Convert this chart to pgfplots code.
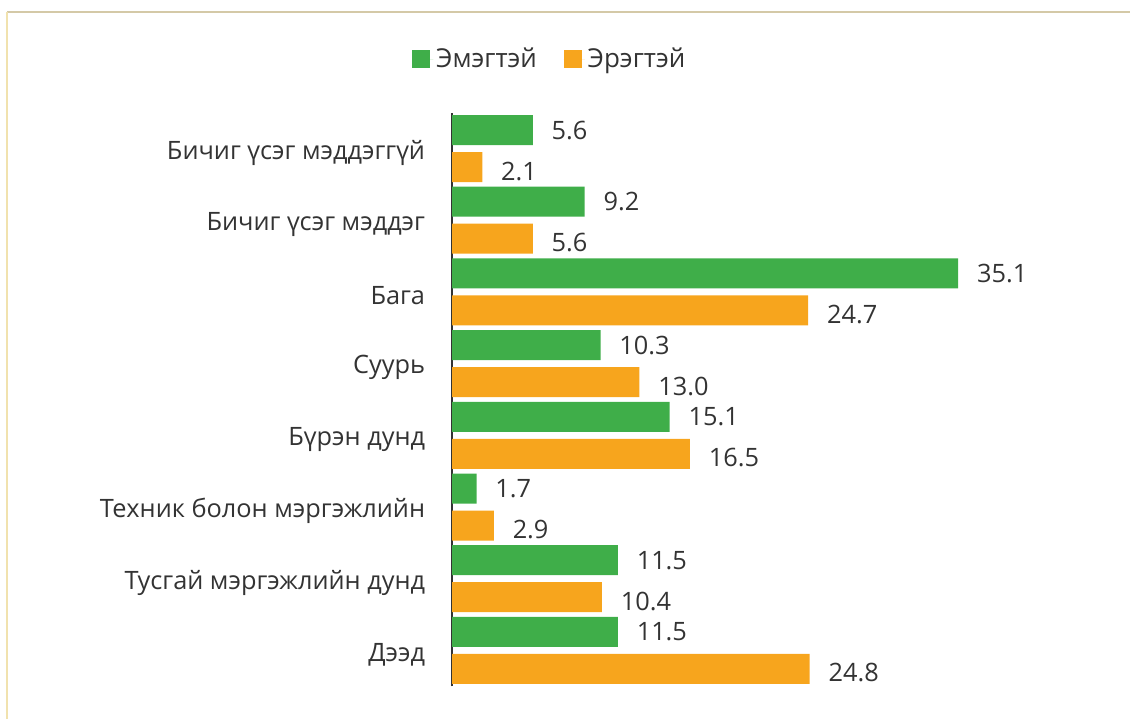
\documentclass[border=0pt]{standalone}
\usepackage{pgfplots}
\pgfplotsset{compat=1.18}
\usepackage{fontspec}
\setmainfont{Open Sans}
\definecolor{fem}{HTML}{3FAE49}
\definecolor{mal}{HTML}{F7A51D}
\definecolor{txt}{HTML}{333333}
\definecolor{frame}{HTML}{C9BC91}

\begin{document}
\begin{tikzpicture}
\useasboundingbox (0,0) rectangle (847.5pt,539.25pt);
% frame lines
\draw[frame!80, line width=1.5pt] (5.25pt,530.25pt) -- (847.5pt,530.25pt);
\draw[frame!120!black, line width=1.1pt] (5.25pt,530.25pt) -- (5.25pt,0pt);
\begin{axis}[
  at={(339pt,24.56pt)}, anchor=south west,
  scale only axis, width=432.6pt, height=430.2pt,
  xbar, bar width=22.5pt,
  xmin=0, xmax=40, ymin=-0.5, ymax=7.5,
  axis x line=none, axis y line*=left,
  axis line style={txt, line width=1.1pt},
  major tick length=0,
  ytick={0,...,7},
  yticklabels={Дээд,Тусгай мэргэжлийн дунд,Техник болон мэргэжлийн,Бүрэн дунд,Суурь,Бага,Бичиг үсэг мэддэг,Бичиг үсэг мэддэггүй},
  yticklabel style={font=\fontsize{19}{22}\selectfont, text=txt, inner sep=0pt, xshift=-20pt, yshift=-3pt},
  nodes near coords,
  /pgf/number format/.cd, fixed, fixed zerofill, precision=1, assume math mode=true, /pgfplots/.cd,
  nodes near coords style={font=\fontsize{19}{22}\selectfont, text=txt, anchor=west, inner sep=0pt, xshift=14pt},
  legend columns=2,
  legend style={draw=none, fill=none, at={(0.17,1.0935)}, anchor=center,
    font=\fontsize{19.5}{22}\selectfont, text=txt,
    /tikz/every even column/.append style={column sep=18pt}},
  legend image code/.code={\fill[#1] (0pt,-6.75pt) rectangle (13.5pt,6.75pt); \path (0pt,0pt) -- (16pt,0pt);},
]
\addplot[fill=fem, draw=none, bar shift=13.875pt] coordinates
  {(5.6,7) (9.2,6) (35.1,5) (10.3,4) (15.1,3) (1.7,2) (11.5,1) (11.5,0)};
\addplot[fill=mal, draw=none, bar shift=-13.875pt,
  nodes near coords style={yshift=-3pt}] coordinates
  {(2.1,7) (5.6,6) (24.7,5) (13.0,4) (16.5,3) (2.9,2) (10.4,1) (24.8,0)};
\legend{Эмэгтэй, Эрэгтэй}
\end{axis}
\end{tikzpicture}
\end{document}
